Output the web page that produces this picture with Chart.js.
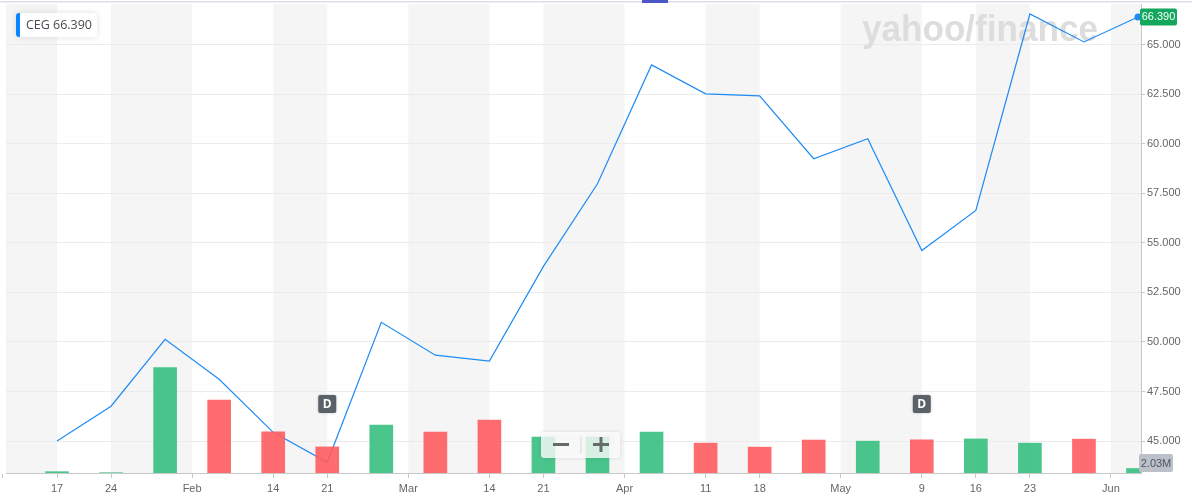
<!DOCTYPE html>
<html>
<head>
<meta charset="utf-8">
<script src="https://cdn.jsdelivr.net/npm/chart.js@4.4.0/dist/chart.umd.min.js"></script>
<style>
  body { margin: 0; background: #fff; }
  canvas { display: block; }
</style>
</head>
<body>
<canvas id="cegChart" width="1192" height="503"></canvas>
<script>
// weekly bars, CEG
const weeks = ["2022-01-17", "2022-01-24", "2022-01-31", "2022-02-07", "2022-02-14", "2022-02-21", "2022-02-28",
    "2022-03-07", "2022-03-14", "2022-03-21", "2022-03-28", "2022-04-04", "2022-04-11", "2022-04-18",
    "2022-04-25", "2022-05-02", "2022-05-09", "2022-05-16", "2022-05-23", "2022-05-30", "2022-06-06"];
const closes = [45.00, 46.76, 50.13, 48.12, 45.44, 43.93, 50.99, 49.33, 49.03, 53.81, 57.98,
    63.97, 62.51, 62.41, 59.24, 60.25, 54.61, 56.63, 66.54, 65.13, 66.39];
// volume in millions
const volumes = [0.6, 0.15, 47.7, 33.0, 18.6, 11.8, 21.7, 18.5, 23.9, 16.2, 16.2,
    18.5, 13.5, 11.7, 14.9, 14.4, 15.0, 15.4, 13.5, 15.3, 2.03];
// x tick positions are in week-index units
const tickPos = [-1, 0, 1, 2.5, 4, 5, 6.5, 8, 9, 10.5, 12, 13, 14.5, 16, 17, 18, 19.5];
const tickLabels = ["", "17", "24", "Feb", "14", "21", "Mar", "14", "21", "Apr", "11", "18", "May", "9", "16", "23", "Jun"];
const priceTicks = [45, 47.5, 50, 52.5, 55, 57.5, 60, 62.5, 65];
const dividendWeeks = [5, 16];
const symbol = "CEG";

const UP = "rgba(54,192,128,0.9)";
const DOWN = "rgba(255,92,96,0.9)";
const barColors = closes.map((c, i) => (i === 0 || c >= closes[i - 1]) ? UP : DOWN);
const lastClose = closes[closes.length - 1];

function rrect(ctx, x, y, w, h, r) {
    ctx.beginPath();
    ctx.roundRect(x, y, w, h, r);
}

const decor = {
    id: "decor",
    beforeDraw(chart) {
        const { ctx, chartArea: a, scales: { x } } = chart;
        ctx.save();
        ctx.fillStyle = "#f5f5f5";
        const edges = tickPos.map(v => x.getPixelForValue(v)).concat([a.right]);
        for (let k = 0; k < edges.length - 1; k += 2) {
            const l = Math.max(edges[k], a.left), r = Math.min(edges[k + 1], a.right);
            if (r > l) ctx.fillRect(l, a.top, r - l, a.bottom - a.top);
        }
        ctx.fillStyle = "#e0deee";
        ctx.fillRect(0, 1, chart.width, 1.5);
        ctx.fillStyle = "#4b57c8";
        ctx.fillRect(642, 0, 26, 3);
        ctx.restore();
    },
    beforeDatasetsDraw(chart) {
        const { ctx } = chart;
        ctx.save();
        ctx.font = 'bold 36px "Liberation Sans"';
        const w = ctx.measureText("yahoo/finance").width;
        ctx.translate(862, 41);
        ctx.scale(236 / w, 1);
        ctx.fillStyle = "#dddddd";
        ctx.textBaseline = "alphabetic";
        ctx.fillText("yahoo/finance", 0, 0);
        ctx.restore();
    },
    afterDatasetsDraw(chart) {
        const { ctx, chartArea: a, scales: { x } } = chart;
        ctx.save();
        // dividend markers
        dividendWeeks.forEach(i => {
            const px = x.getPixelForValue(i);
            ctx.shadowColor = "rgba(0,0,0,0.2)";
            ctx.shadowBlur = 3;
            ctx.fillStyle = "#5a6169";
            rrect(ctx, px - 9, a.bottom - 78, 18, 18, 2);
            ctx.fill();
            ctx.shadowBlur = 0;
            ctx.fillStyle = "#fff";
            ctx.font = 'bold 12px "Open Sans"';
            ctx.textAlign = "center";
            ctx.textBaseline = "middle";
            ctx.fillText("D", px, a.bottom - 68.5);
        });
        // zoom control
        ctx.shadowColor = "rgba(0,0,0,0.15)";
        ctx.shadowBlur = 4;
        ctx.fillStyle = "rgba(255,255,255,0.8)";
        rrect(ctx, 541, 432, 79, 26, 3);
        ctx.fill();
        ctx.shadowBlur = 0;
        ctx.fillStyle = "#dadada";
        ctx.fillRect(580.5, 436, 1, 18);
        ctx.fillStyle = "#646c69";
        ctx.fillRect(553, 443, 16, 3);
        ctx.fillRect(593, 443, 16, 3);
        ctx.fillRect(599.5, 437, 3, 15);
        ctx.restore();
    },
    afterDraw(chart) {
        const { ctx, chartArea: a, scales: { y } } = chart;
        ctx.save();
        // last price tag
        const py = y.getPixelForValue(lastClose);
        ctx.fillStyle = "#12a85e";
        rrect(ctx, a.right - 1, py - 8.5, 37, 17, 2);
        ctx.fill();
        ctx.fillStyle = "#fff";
        ctx.font = '11px "Liberation Sans"';
        ctx.textAlign = "center";
        ctx.textBaseline = "middle";
        ctx.fillText(lastClose.toFixed(3), a.right + 17.5, py + 0.5);
        // volume tag
        ctx.fillStyle = "#bcc1c9";
        rrect(ctx, a.right - 2, a.bottom - 19, 34, 18, 2);
        ctx.fill();
        ctx.fillStyle = "#4f5663";
        ctx.fillText(volumes[volumes.length - 1].toFixed(2) + "M", a.right + 15, a.bottom - 9.5);
        // symbol box
        ctx.shadowColor = "rgba(0,0,0,0.13)";
        ctx.shadowBlur = 6;
        ctx.fillStyle = "#fff";
        rrect(ctx, 16, 13, 81, 24, 3);
        ctx.fill();
        ctx.shadowBlur = 0;
        ctx.fillStyle = "#0a84ff";
        rrect(ctx, 16, 13, 4, 24, [3, 0, 0, 3]);
        ctx.fill();
        ctx.fillStyle = "#464c52";
        ctx.font = '12.5px "Open Sans"';
        ctx.textAlign = "left";
        ctx.fillText(symbol, 26, 25.5);
        ctx.fillText(lastClose.toFixed(3), 53, 25.5);
        ctx.restore();
    }
};

function renderChart() {
    const ctx = document.getElementById("cegChart").getContext("2d");
    new Chart(ctx, {
        type: "bar",
        data: {
            datasets: [{
                type: "line",
                label: "Close",
                data: closes.map((c, i) => ({ x: i, y: c })),
                yAxisID: "y",
                order: 2,
                borderColor: "#1e8bf5",
                borderWidth: 1.2,
                tension: 0,
                pointRadius: c => c.dataIndex === closes.length - 1 ? 3.5 : 0,
                pointBackgroundColor: "#1e8bf5",
                pointBorderWidth: 0
            }, {
                type: "bar",
                label: "Volume",
                data: volumes.map((v, i) => ({ x: i, y: v })),
                yAxisID: "vol",
                order: 1,
                backgroundColor: barColors,
                barThickness: 23
            }]
        },
        options: {
            responsive: false,
            animation: false,
            layout: { padding: { left: 6, top: 3, right: 0, bottom: 0 } },
            plugins: { legend: { display: false }, tooltip: { enabled: false } },
            scales: {
                x: {
                    type: "linear",
                    offset: false,
                    min: -0.9436,
                    max: 20.0555,
                    afterBuildTicks: s => { s.ticks = tickPos.map(v => ({ value: v })); },
                    ticks: {
                        callback: (v, i) => tickLabels[i],
                        autoSkip: false,
                        maxRotation: 0,
                        color: "#666",
                        padding: 4,
                        font: { size: 11, family: "Liberation Sans" }
                    },
                    grid: { offset: false, drawOnChartArea: false, tickLength: 5, tickColor: "#c8c8c8" },
                    border: { color: "#c8c8c8" },
                    afterFit: s => { s.height = 30; s.paddingLeft = 0; s.paddingRight = 0; }
                },
                y: {
                    position: "right",
                    min: 43.39,
                    max: 67.043,
                    afterBuildTicks: s => { s.ticks = priceTicks.map(v => ({ value: v })); },
                    ticks: {
                        callback: v => v.toFixed(3),
                        color: "#666",
                        padding: 2,
                        font: { size: 11, family: "Liberation Sans" }
                    },
                    grid: { color: "#ebebeb", tickLength: 4, tickColor: "#c8c8c8" },
                    border: { color: "#c8c8c8" },
                    afterFit: s => { s.width = 51; s.paddingTop = 0; s.paddingBottom = 0; }
                },
                vol: { display: false, min: 0, max: 212 }
            }
        },
        plugins: [decor]
    });
}

document.addEventListener("DOMContentLoaded", renderChart);
</script>
</body>
</html>
